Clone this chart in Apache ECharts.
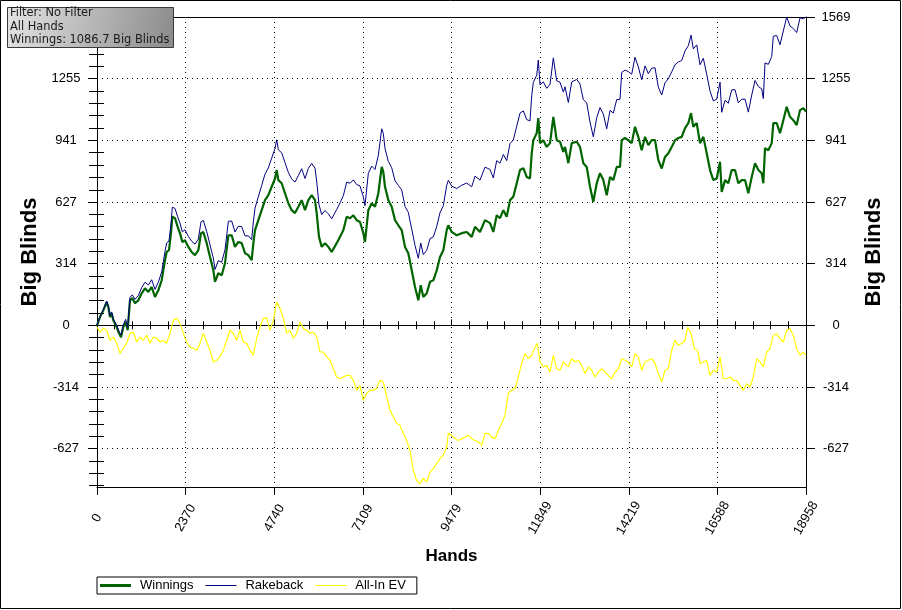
<!DOCTYPE html>
<html><head><meta charset="utf-8">
<script src="https://cdn.jsdelivr.net/npm/echarts@6/dist/echarts.min.js"></script>
<style>html,body{margin:0;padding:0;background:#fff}#c{width:902px;height:610px}</style>
</head><body><div id="c"></div>
<script>
// ---------- DATA ----------
const hands = [0,80,169,259,303,348,392,437,526,588,642,704,767,820,882,945,1016,1105,1194,1284,1373,1462,1551,1640,1729,1774,1818,1863,1925,1979,2014,2086,2157,2219,2282,2353,2442,2531,2621,2710,2781,2843,2933,3022,3111,3155,3244,3334,3423,3512,3601,3690,3779,3868,3958,4047,4136,4181,4225,4314,4404,4492,4581,4671,4760,4805,4849,4938,5027,5117,5206,5295,5384,5473,5562,5651,5741,5829,5874,5936,6008,6097,6186,6275,6320,6409,6498,6586,6677,6765,6854,6944,7033,7121,7166,7255,7345,7434,7522,7613,7656,7701,7790,7880,7969,8057,8148,8236,8324,8415,8503,8592,8656,8725,8816,8904,8993,9084,9172,9260,9351,9394,9485,9618,9752,9886,10019,10108,10241,10375,10509,10597,10688,10776,10865,10955,11044,11132,11223,11311,11400,11490,11578,11624,11667,11758,11800,11846,11934,12025,12113,12202,12292,12380,12469,12514,12603,12694,12827,12915,13004,13094,13183,13271,13362,13450,13539,13629,13718,13806,13897,13985,14030,14119,14207,14298,14386,14474,14565,14654,14742,14833,14921,15009,15100,15188,15277,15368,15456,15544,15635,15723,15812,15884,15945,16036,16124,16213,16303,16392,16480,16571,16659,16704,16793,16881,16972,17060,17148,17239,17328,17416,17507,17595,17684,17774,17817,17862,17951,18041,18084,18175,18263,18352,18442,18530,18619,18709,18798,18887,18958];
const winnings = [0,42,76,119,93,42,61,25,-9,-41,-61,-9,17,-25,127,138,112,127,163,188,170,195,144,178,229,280,331,373,382,469,552,545,501,469,424,433,399,373,357,382,469,475,418,348,280,221,265,255,316,458,458,399,424,418,367,357,331,418,484,535,586,637,662,705,747,790,739,723,672,621,586,571,603,637,586,637,662,637,571,450,399,418,399,373,373,418,450,484,552,545,560,535,526,469,424,586,621,603,672,806,781,705,637,603,535,509,484,399,367,280,195,127,204,144,163,221,229,280,348,382,484,509,475,458,469,475,450,501,475,535,520,475,560,545,586,552,637,654,723,790,800,755,747,876,942,978,1054,927,942,908,927,1061,942,934,883,908,825,927,934,908,825,806,705,628,723,774,739,662,755,739,806,806,942,953,942,927,1010,959,891,959,917,942,942,841,798,857,876,908,942,953,959,1004,1029,1080,1010,1029,927,959,876,790,739,747,832,679,739,723,790,790,723,739,739,672,755,825,790,774,723,902,891,927,1029,1029,978,1044,1112,1061,1044,1019,1095,1105,1087];
const rakeback = [0,43,79,123,98,48,68,32,0,-31,-50,3,30,-11,142,155,132,151,191,219,205,232,183,219,272,324,376,419,429,517,601,595,552,520,476,486,453,428,413,439,527,534,478,409,342,284,329,321,384,529,531,475,504,502,455,455,436,527,596,654,712,769,801,851,900,944,893,878,828,778,744,729,762,797,747,798,824,800,734,614,564,584,567,542,543,589,623,659,729,723,740,716,709,654,609,773,810,793,864,1000,976,900,834,802,736,712,689,605,575,490,407,341,419,360,381,441,450,503,573,608,712,738,708,696,713,724,705,759,739,805,793,750,838,825,869,838,925,943,1013,1080,1091,1047,1040,1169,1236,1273,1350,1223,1239,1206,1226,1361,1244,1237,1187,1214,1134,1239,1251,1228,1148,1132,1034,959,1056,1108,1075,1000,1094,1080,1149,1150,1287,1299,1291,1278,1364,1315,1250,1320,1281,1308,1311,1212,1172,1234,1255,1290,1326,1340,1348,1396,1423,1477,1407,1427,1326,1359,1277,1192,1142,1151,1237,1084,1145,1130,1198,1199,1133,1150,1151,1085,1172,1246,1215,1203,1154,1335,1328,1368,1471,1475,1428,1498,1569,1523,1510,1490,1565,1560,1569];
const evHands = [0,80,169,259,348,437,526,615,704,793,882,971,1060,1150,1239,1328,1417,1506,1595,1685,1774,1863,1952,2041,2130,2219,2309,2398,2487,2576,2665,2754,2843,2933,3022,3111,3200,3289,3378,3467,3556,3645,3735,3824,3913,4002,4091,4181,4270,4359,4448,4537,4626,4715,4805,4893,4982,5072,5161,5250,5339,5428,5517,5607,5696,5785,5874,5963,6052,6142,6231,6320,6409,6498,6587,6677,6765,6854,6944,7033,7121,7212,7300,7389,7479,7567,7656,7747,7835,7923,8014,8102,8190,8281,8370,8458,8549,8637,8725,8816,8904,8993,9084,9172,9260,9351,9394,9485,9573,9661,9752,9840,9929,10019,10108,10196,10287,10375,10464,10554,10643,10731,10822,10910,10998,11089,11177,11266,11356,11445,11533,11624,11712,11774,11846,11934,12025,12113,12202,12292,12380,12469,12514,12603,12694,12782,12870,12961,13049,13138,13228,13317,13405,13496,13584,13672,13763,13851,13940,14030,14119,14207,14298,14386,14474,14565,14654,14742,14833,14921,15009,15100,15188,15277,15368,15456,15544,15635,15723,15795,15884,15973,16063,16124,16213,16303,16392,16480,16571,16659,16748,16837,16927,17015,17104,17194,17282,17371,17461,17549,17640,17728,17817,17907,17996,18084,18175,18263,18352,18442,18530,18619,18709,18798,18887,18958];
const allInEV = [-9,-34,-17,-25,-76,-60,-92,-143,-117,-92,-41,-34,-85,-60,-76,-51,-92,-60,-66,-85,-76,-92,-41,25,36,10,-41,-85,-111,-117,-127,-92,-41,-85,-127,-187,-178,-161,-127,-76,-25,-41,-76,-25,-85,-92,-127,-153,-66,-9,36,36,-25,25,119,87,36,-41,-25,-66,-41,17,-17,-25,-41,-34,-60,-136,-136,-161,-178,-221,-263,-272,-263,-255,-255,-280,-331,-306,-382,-346,-331,-331,-321,-280,-289,-365,-433,-467,-499,-509,-550,-586,-637,-739,-790,-806,-779,-798,-747,-730,-703,-679,-662,-620,-550,-560,-577,-586,-577,-569,-560,-577,-586,-594,-611,-550,-550,-569,-577,-535,-499,-458,-346,-331,-321,-263,-194,-143,-170,-153,-111,-92,-187,-212,-204,-238,-153,-221,-229,-187,-187,-212,-170,-187,-178,-204,-246,-212,-229,-263,-238,-221,-238,-255,-272,-238,-221,-170,-178,-187,-212,-144,-161,-229,-187,-178,-170,-194,-246,-289,-229,-221,-127,-76,-102,-93,-76,-9,-42,-119,-127,-195,-187,-178,-255,-229,-238,-161,-272,-272,-263,-280,-280,-306,-331,-297,-314,-263,-170,-187,-212,-136,-119,-51,-42,-68,-85,-25,-17,-51,-119,-153,-136,-153];
const seriesNames = ['Winnings', 'Rakeback', 'All-In EV'];
const xTicks = [0, 2370, 4740, 7109, 9479, 11849, 14219, 16588, 18958];
const yTicks = [-627, -314, 0, 314, 627, 941, 1255, 1569];
const yMin = -823;
const yMax = 1569;
const infoLines = ['Filter: No Filter', 'All Hands', 'Winnings: 1086.7 Big Blinds'];
const xTitle = 'Hands';
const yTitle = 'Big Blinds';

// ---------- minor tick positions (4 between majors) ----------
function minors(ticks, lo, hi) {
  const out = [];
  for (let i = 0; i < ticks.length - 1; i++) {
    const a = ticks[i], b = ticks[i + 1];
    for (let k = 1; k < 5; k++) out.push(a + (b - a) * k / 5);
  }
  const st = (ticks[1] - ticks[0]) / 5;
  for (let v = ticks[0] - st; v > lo; v -= st) out.push(v);
  const st2 = (ticks[ticks.length - 1] - ticks[ticks.length - 2]) / 5;
  for (let v = ticks[ticks.length - 1] + st2; v < hi; v += st2) out.push(v);
  return out;
}
const xMinor = minors(xTicks, xTicks[0], xTicks[xTicks.length - 1]);
const yMinor = minors(yTicks, yMin, yMax);

const FONT = '"Liberation Sans", Arial, sans-serif';
const black = '#000';

function xAx(extra) {
  return Object.assign({
    type: 'value', gridIndex: 0, position: 'bottom', min: 0, max: xTicks[xTicks.length - 1],
    axisLine: { show: false }, axisLabel: { show: false }, splitLine: { show: false },
    axisTick: { show: false }
  }, extra);
}
function yAx(pos, extra) {
  return Object.assign({
    type: 'value', gridIndex: 0, position: pos, min: yMin, max: yMax,
    axisLine: { show: false }, axisLabel: { show: false }, splitLine: { show: false },
    axisTick: { show: false }
  }, extra);
}

const chart = echarts.init(document.getElementById('c'), null, { renderer: 'canvas' });
chart.setOption({
  animation: false,
  backgroundColor: '#fff',
  grid: { left: 97, right: 96, top: 17, bottom: 123, containLabel: false },
  xAxis: [
    xAx({
      axisLine: { show: true, onZero: false, lineStyle: { color: black, width: 1 } },
      axisTick: { show: true, customValues: xTicks, length: 8, lineStyle: { color: black } },
      axisLabel: {
        show: true, customValues: xTicks, rotate: 60, align: 'center', verticalAlign: 'middle',
        margin: 31, color: black, fontFamily: FONT, fontSize: 13,
        formatter: v => String(Math.round(v))
      },
      splitLine: { show: true, lineStyle: { color: black, type: [1, 4], width: 1 } },
      name: xTitle, nameLocation: 'middle', nameGap: 61,
      nameTextStyle: { fontFamily: FONT, fontWeight: 'bold', fontSize: 17, color: black }
    }),
    xAx({ axisTick: { show: true, inside: true, customValues: xTicks, length: 6, lineStyle: { color: black } } }),
    xAx({ axisTick: { show: true, customValues: xMinor, length: 4, lineStyle: { color: black } } }),
    xAx({ axisTick: { show: true, inside: true, customValues: xMinor, length: 4, lineStyle: { color: black } } }),
    xAx({ position: 'top', axisLine: { show: true, onZero: false, lineStyle: { color: black } } })
  ],
  yAxis: [
    yAx('left', {
      axisLine: { show: true, onZero: false, lineStyle: { color: black } },
      axisTick: { show: true, customValues: yTicks, length: 9, lineStyle: { color: black } },
      axisLabel: { show: true, customValues: yTicks, margin: 31, align: 'center', color: black, fontFamily: FONT, fontSize: 13,
        formatter: v => String(Math.round(v)) },
      splitLine: { show: true, lineStyle: { color: black, type: [1, 4], width: 1 } },
      name: yTitle, nameLocation: 'middle', nameGap: 56,
      nameTextStyle: { fontFamily: FONT, fontWeight: 'bold', fontSize: 22, color: black }
    }),
    yAx('left', { axisTick: { show: true, customValues: yMinor, length: 8, lineStyle: { color: black } } }),
    yAx('left', { axisTick: { show: true, inside: true, customValues: yMinor, length: 4, lineStyle: { color: black } } }),
    yAx('right', {
      axisLine: { show: true, onZero: false, lineStyle: { color: black } },
      axisTick: { show: true, customValues: yTicks, length: 9, lineStyle: { color: black } },
      axisLabel: { show: true, customValues: yTicks, margin: 30, align: 'center', color: black, fontFamily: FONT, fontSize: 13,
        formatter: v => String(Math.round(v)) },
      name: yTitle, nameLocation: 'middle', nameGap: 57,
      nameTextStyle: { fontFamily: FONT, fontWeight: 'bold', fontSize: 22, color: black }
    }),
    yAx('right', { axisTick: { show: true, customValues: yMinor, length: 7, lineStyle: { color: black } } }),
    yAx('right', { axisTick: { show: true, inside: true, customValues: yMinor, length: 3, lineStyle: { color: black } } })
  ],
  legend: {
    left: 97, top: 577, orient: 'horizontal',
    padding: [2, 11, 2, 3], itemWidth: 31, itemHeight: 3, itemGap: 12,
    borderColor: black, borderWidth: 1, backgroundColor: '#fff', borderRadius: 0,
    textStyle: { fontFamily: FONT, fontSize: 13, color: black, padding: [0, 0, 0, 4] },
    selectedMode: false,
    data: [
      { name: seriesNames[0], icon: 'path://M0,0H31V3H0Z' },
      { name: seriesNames[1], icon: 'path://M0,0H31V1H0Z' },
      { name: seriesNames[2], icon: 'path://M0,0H31V1H0Z' }
    ]
  },
  series: [
    {
      name: seriesNames[0], type: 'line', xAxisIndex: 0, yAxisIndex: 0,
      data: hands.map((h, i) => [h, winnings[i]]),
      showSymbol: false, symbol: 'none', color: '#006400',
      lineStyle: { color: '#006400', width: 2.2 }, z: 3,
      markLine: {
        silent: true, symbol: ['none', 'none'], label: { show: false },
        lineStyle: { color: black, type: 'solid', width: 1 },
        data: [{ yAxis: 0 }], z: 1
      }
    },
    {
      name: seriesNames[1], type: 'line', xAxisIndex: 0, yAxisIndex: 0,
      data: hands.map((h, i) => [h, rakeback[i]]),
      showSymbol: false, symbol: 'none', color: '#000080',
      lineStyle: { color: '#000080', width: 1 }, z: 4
    },
    {
      name: seriesNames[2], type: 'line', xAxisIndex: 0, yAxisIndex: 0,
      data: evHands.map((h, i) => [h, allInEV[i]]),
      showSymbol: false, symbol: 'none', color: '#ffff00',
      lineStyle: { color: '#ffff00', width: 1.2 }, z: 5
    }
  ],
  graphic: [
    { type: 'rect', z: 200, zlevel: 1, silent: true, shape: { x: 0.5, y: 0.5, width: 900, height: 608 },
      style: { fill: 'none', stroke: black, lineWidth: 1 } },
    { type: 'rect', z: 200, zlevel: 1, silent: true, shape: { x: 7.5, y: 7.5, width: 166, height: 40 },
      style: { fill: { type: 'linear', x: 0, y: 0, x2: 1, y2: 1,
        colorStops: [{ offset: 0, color: '#e4e4e4' }, { offset: 1, color: '#8a8a8a' }] },
        stroke: '#3a3a3a', lineWidth: 1 } },
    ...infoLines.map((t, i) => ({ type: 'text', z: 201, zlevel: 1, silent: true, x: 10, y: 8 + i * 13.3,
      style: { text: t, fill: '#1a1a1a', font: '11.4px "DejaVu Sans", Verdana, sans-serif' } }))
  ]
});
</script></body></html>
